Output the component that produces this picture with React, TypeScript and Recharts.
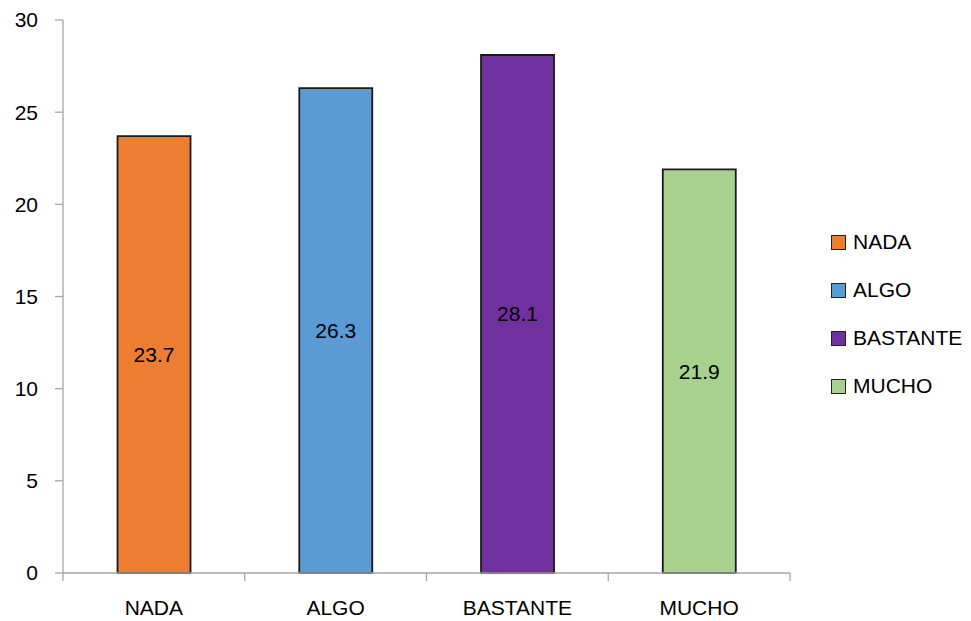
import React from 'react';
import { BarChart, Bar, XAxis, YAxis, Cell, LabelList, Legend } from 'recharts';

const CATEGORIES = ['NADA', 'ALGO', 'BASTANTE', 'MUCHO'];
const VALUES = [23.7, 26.3, 28.1, 21.9];
const COLORS = ['#ED7D31', '#5B9BD5', '#7030A0', '#A9D18E'];
const Y_TICKS = [0, 5, 10, 15, 20, 25, 30];

const AXIS = '#A6A6A6';
const FONT = '"Liberation Sans", Arial, sans-serif';

const data = CATEGORIES.map((name, i) => ({ name, value: VALUES[i] }));

// Category tick: label under the bar, tick marks on the band edges (Excel style).
function EdgeTick(props: any) {
  const { x, y, payload, index, visibleTicksCount } = props;
  const half = payload.offset ?? 0;
  const last = index === visibleTicksCount - 1;
  return (
    <g>
      <line x1={x - half} x2={x - half} y1={y} y2={y + 8} stroke={AXIS} strokeWidth={1.3} />
      {last && <line x1={x + half} x2={x + half} y1={y} y2={y + 8} stroke={AXIS} strokeWidth={1.3} />}
      <text x={x} y={y + 42} textAnchor="middle" fontSize={21} fontFamily={FONT} fill="#000">{payload.value}</text>
    </g>
  );
}

// Excel-style legend: square swatch with a dark border, one item per category.
function SideLegend() {
  return (
    <div style={{ fontFamily: FONT, fontSize: 21, color: '#000' }}>
      {CATEGORIES.map((c, i) => (
        <div key={c} style={{ display: 'flex', alignItems: 'center', height: 48 }}>
          <span style={{ width: 13, height: 13, background: COLORS[i], border: '1.5px solid #222', marginRight: 7 }} />
          <span>{c}</span>
        </div>
      ))}
    </div>
  );
}

export default function App() {
  return (
    <div style={{ position: 'absolute', left: 0, top: 0, width: 971, height: 621, background: '#fff' }}>
      <BarChart width={971} height={621} data={data} margin={{ top: 20, right: 181, bottom: 0, left: 0 }} barCategoryGap="30%">
        <XAxis dataKey="name" height={48} axisLine={{ stroke: AXIS, strokeWidth: 1.3 }} tickLine={false}
          tickSize={0} tickMargin={0} tick={<EdgeTick />} interval={0} />
        <YAxis domain={[0, 30]} ticks={Y_TICKS} width={63} tickSize={8} tickMargin={17}
          axisLine={{ stroke: AXIS, strokeWidth: 1.3 }} tickLine={{ stroke: AXIS, strokeWidth: 1.3 }}
          tick={{ fontSize: 21, fill: '#000', fontFamily: FONT }} />
        <Legend layout="vertical" align="center" verticalAlign="middle" content={() => <SideLegend />}
          wrapperStyle={{ left: 831, top: 218, width: 140 }} />
        <Bar dataKey="value" stroke="#1a1a1a" strokeWidth={1.8} isAnimationActive={false}>
          {data.map((d, i) => <Cell key={d.name} fill={COLORS[i]} />)}
          <LabelList dataKey="value" position="center" fill="#000" fontSize={21} fontFamily={FONT} />
        </Bar>
      </BarChart>
    </div>
  );
}
